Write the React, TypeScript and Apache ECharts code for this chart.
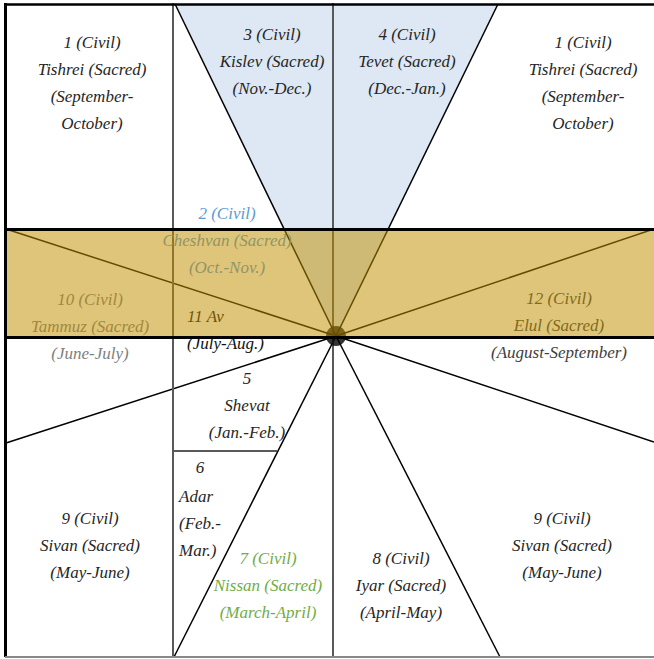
import React, { useEffect, useRef } from "react";
import * as echarts from "echarts";

// Month labels (Civil / Sacred / Gregorian)
const blockTexts = [
  "1 (Civil)\nTishrei (Sacred)\n(September-\nOctober)",
  "3 (Civil)\nKislev (Sacred)\n(Nov.-Dec.)",
  "4 (Civil)\nTevet (Sacred)\n(Dec.-Jan.)",
  "1 (Civil)\nTishrei (Sacred)\n(September-\nOctober)",
  "2 (Civil)\nCheshvan (Sacred)\n(Oct.-Nov.)",
  "10 (Civil)\nTammuz (Sacred)\n(June-July)",
  "11 Av\n(July-Aug.)",
  "12 (Civil)\nElul (Sacred)\n(August-September)",
  "5\nShevat\n(Jan.-Feb.)",
  "6",
  "Adar\n(Feb.-\nMar.)",
  "9 (Civil)\nSivan (Sacred)\n(May-June)",
  "7 (Civil)\nNissan (Sacred)\n(March-April)",
  "8 (Civil)\nIyar (Sacred)\n(April-May)",
  "9 (Civil)\nSivan (Sacred)\n(May-June)",
];
// anchor positions of the label blocks (diagram units)
const blockAnchors = [
  [92, 83], [272, 61], [407, 61], [583, 83],
  [227, 240], [90, 326], [187, 330], [559, 325],
  [247, 405], [200, 467], [179, 523],
  [90, 545], [268, 585], [401, 585], [562, 545],
];
const blockColors = [
  "#262626", "#262626", "#262626", "#262626",
  "#5b9bd5", "#808080", "#111111", "#404040",
  "#262626", "#262626", "#262626",
  "#262626", "#70ad47", "#262626", "#262626",
];
const blockAlign = [
  "center", "center", "center", "center",
  "center", "center", "left", "center",
  "center", "center", "left",
  "center", "center", "center", "center",
];

// geometry
const center = [336, 336];
const rayEnds = [
  [175, 4], [498, 4], [6, 229], [654, 229],
  [6, 443], [654, 442], [174, 657], [500, 657],
];
const verticalXs = [173, 333];
const shelf = [[173, 451], [277, 451]];
const triangle = [[175, 4], [498, 4], [336, 336]];
const band = [[5, 229], [654, 337]];

export default function App() {
  const ref = useRef<HTMLDivElement>(null);
  useEffect(() => {
    document.body.style.margin = "0";
    const chart = echarts.init(ref.current!, null, { renderer: "svg" });
    const blackLine = { color: "#000", width: 1.5, opacity: 1 };
    const grayLine = { color: "#595959", width: 2, opacity: 1 };
    const lineData: any[] = [];
    rayEnds.forEach((e) => lineData.push({ coords: [center, e], lineStyle: blackLine }));
    verticalXs.forEach((x) => lineData.push({ coords: [[x, 3], [x, 657]], lineStyle: grayLine }));
    lineData.push({ coords: shelf, lineStyle: grayLine });

    const borderData: any[] = [
      { coords: [[5, band[0][1]], [654, band[0][1]]], lineStyle: { color: "#000", width: 3, opacity: 1 } },
      { coords: [[5, band[1][1]], [654, band[1][1]]], lineStyle: { color: "#000", width: 3, opacity: 1 } },
      { coords: [[5.5, 3], [5.5, 657]], lineStyle: { color: "#000", width: 3, opacity: 1 } },
      { coords: [[4, 4], [654, 4]], lineStyle: { color: "#000", width: 2.5, opacity: 1 } },
      { coords: [[5, 657], [654, 657]], lineStyle: { color: "#888", width: 2, opacity: 1 } },
    ];

    const option: any = {
      animation: false,
      grid: { left: 0, right: 0, top: 0, bottom: 0 },
      xAxis: { type: "value", min: 0, max: 654, show: false },
      yAxis: { type: "value", min: 0, max: 659, inverse: true, show: false },
      series: [
        {
          type: "custom",
          z: 1,
          data: [0],
          silent: true,
          renderItem: (params: any, api: any) => ({
            type: "polygon",
            shape: { points: triangle.map((p) => api.coord(p)) },
            style: { fill: "#dde8f4" },
          }),
        },
        {
          type: "lines",
          coordinateSystem: "cartesian2d",
          z: 2,
          silent: true,
          data: lineData,
        },
        {
          type: "scatter",
          z: 3,
          symbol: "circle",
          symbolSize: 20,
          itemStyle: { color: "#000" },
          data: [center],
          silent: true,
        },
        {
          type: "custom",
          z: 3,
          silent: true,
          data: blockAnchors,
          renderItem: (params: any, api: any) => {
            const i = params.dataIndex;
            const p = api.coord([api.value(0), api.value(1)]);
            return {
              type: "text",
              x: p[0],
              y: p[1],
              style: {
                text: blockTexts[i],
                font: 'italic 17px "Liberation Serif", "Times New Roman", serif',
                lineHeight: 27,
                fill: blockColors[i],
                align: blockAlign[i],
                verticalAlign: "middle",
              },
            };
          },
        },
        {
          type: "custom",
          z: 4,
          data: [0],
          silent: true,
          renderItem: (params: any, api: any) => {
            const a = api.coord(band[0]);
            const b = api.coord(band[1]);
            return {
              type: "rect",
              shape: { x: a[0], y: a[1], width: b[0] - a[0], height: b[1] - a[1] },
              style: { fill: "rgba(191,143,0,0.52)" },
            };
          },
        },
        {
          type: "lines",
          coordinateSystem: "cartesian2d",
          z: 5,
          silent: true,
          data: borderData,
        },
      ],
    };
    chart.setOption(option);
    return () => chart.dispose();
  }, []);
  return (
    <div
      ref={ref}
      style={{ position: "fixed", left: 0, top: 0, width: 654, height: 659, background: "#fff" }}
    />
  );
}
